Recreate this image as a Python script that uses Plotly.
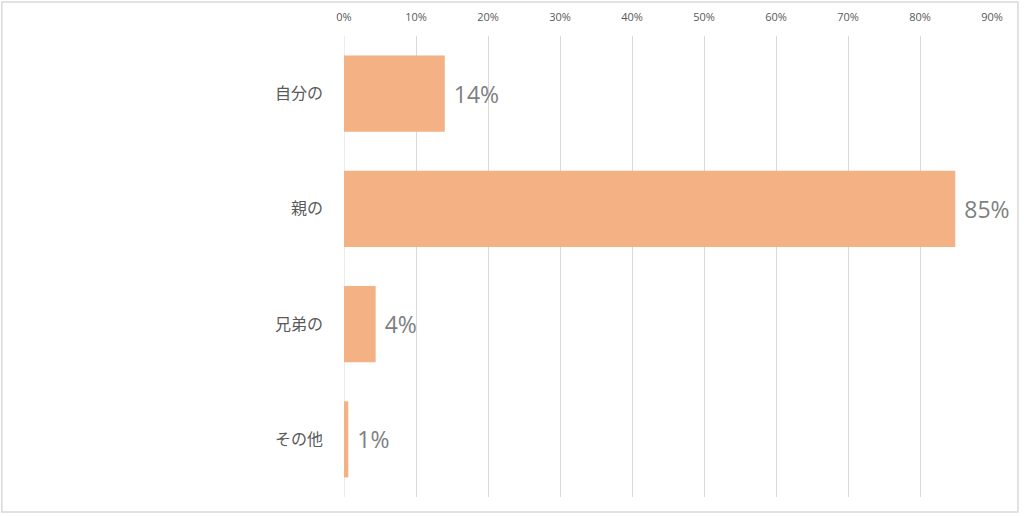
import plotly.graph_objects as go

categories = ["自分の", "親の", "兄弟の", "その他"]
values = [0.14, 0.849, 0.044, 0.006]
tick_vals = [0, 0.1, 0.2, 0.3, 0.4, 0.5, 0.6, 0.7, 0.8, 0.9]

fig = go.Figure()
fig.add_trace(go.Bar(
    x=values,
    y=categories,
    orientation="h",
    marker=dict(color="#F4B183", line=dict(width=0)),
    width=0.66,
    texttemplate="\u00a0%{x:.0%}",
    textposition="outside",
    textfont=dict(size=23, color="#7F7F7F", family="Open Sans, Noto Sans CJK JP"),
    cliponaxis=False,
    hoverinfo="skip",
))

fig.update_layout(
    width=1024,
    height=516,
    margin=dict(l=344, r=32, t=36, b=19),
    paper_bgcolor="white",
    plot_bgcolor="white",
    showlegend=False,
    font=dict(family="Noto Sans CJK JP", color="#595959"),
    xaxis=dict(
        side="top",
        range=[0, 0.9],
        tickvals=tick_vals,
        tickformat=".0%",
        showgrid=True,
        gridcolor="#D9D9D9",
        gridwidth=1,
        zeroline=False,
        showline=False,
        ticks="",
        tickfont=dict(size=11, color="#595959", family="Open Sans"),
        ticklabelstandoff=12,
        automargin=False,
        fixedrange=True,
    ),
    yaxis=dict(
        autorange="reversed",
        showgrid=False,
        zeroline=False,
        showline=False,
        ticks="",
        tickfont=dict(size=16, color="#595959", family="Noto Sans CJK JP"),
        ticklabelstandoff=20,
        automargin=False,
        fixedrange=True,
    ),
    shapes=[
        dict(type="rect", xref="paper", yref="paper",
             x0=-0.528, x1=1.040, y0=-0.0325, y1=1.0738,
             line=dict(color="#D9D9D9", width=1.5), fillcolor="rgba(0,0,0,0)",
             layer="below"),
        dict(type="line", xref="x", yref="paper", x0=0, x1=0, y0=0, y1=1,
             line=dict(color="#D9D9D9", width=1), layer="below"),
    ],
)

fig.write_html(
    "out.html",
    config={"displayModeBar": False, "staticPlot": True},
    post_script="document.body.style.margin='0';document.body.style.overflow='hidden';",
)
